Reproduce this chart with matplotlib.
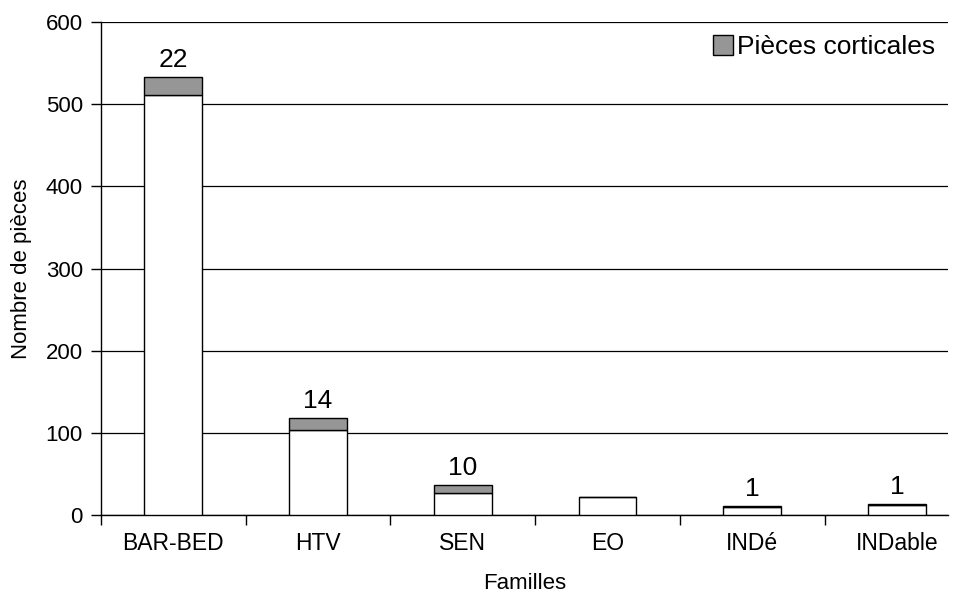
import matplotlib.pyplot as plt
import numpy as np

plt.rcParams["font.family"] = ["Liberation Sans", "DejaVu Sans"]

# data
familles = ["BAR-BED", "HTV", "SEN", "EO", "INDé", "INDable"]
non_corticales = [511, 104, 27, 22, 10, 12]
corticales = [22, 14, 10, 0, 1, 1]

fig = plt.figure(figsize=(9.55, 5.98), dpi=100)
ax = fig.add_axes([0.1058, 0.1388, 0.8869, 0.8244])

x = np.arange(len(familles))
ax.bar(x, non_corticales, width=0.40, color="white", edgecolor="black",
       linewidth=1, zorder=3)
ax.bar(x, corticales, width=0.40, bottom=non_corticales, color="#969696",
       edgecolor="black", linewidth=1, zorder=3, label="Pièces corticales")

# cortical counts above the bars
for xi, base, cort in zip(x, non_corticales, corticales):
    if cort > 0:
        ax.text(xi, base + cort + 6, str(cort), ha="center", va="bottom",
                fontsize=19)

# the plot area is cut just past the last category, as in the original
ax.set_xlim(-0.5, 5.353)
ax.set_ylim(0, 600)
ax.set_yticks(np.arange(0, 601, 100))
ax.yaxis.grid(True, color="black", linewidth=0.9, zorder=0)
ax.set_axisbelow(True)

ax.set_xticks(x)
ax.set_xticklabels(familles)
ax.set_xticks(np.arange(-0.5, len(familles) - 1, 1), minor=True)
ax.tick_params(axis="x", which="major", length=0, pad=12, labelsize=16.5)
ax.tick_params(axis="x", which="minor", length=7, direction="out", width=1)
ax.tick_params(axis="y", length=7, width=1, labelsize=16, pad=6)

for side in ["top", "right"]:
    ax.spines[side].set_visible(False)
for side in ["left", "bottom"]:
    ax.spines[side].set_linewidth(1)

ax.set_xlabel("Familles", fontsize=16, labelpad=13)
ax.set_ylabel("Nombre de pièces", fontsize=16, labelpad=10)

ax.legend(loc="center right", frameon=False, fontsize=19, handlelength=0.75,
          handleheight=0.75, handletextpad=0.15, borderpad=0, borderaxespad=0,
          bbox_to_anchor=(0.985, 0.949))

fig.savefig("out.png", dpi=100)
